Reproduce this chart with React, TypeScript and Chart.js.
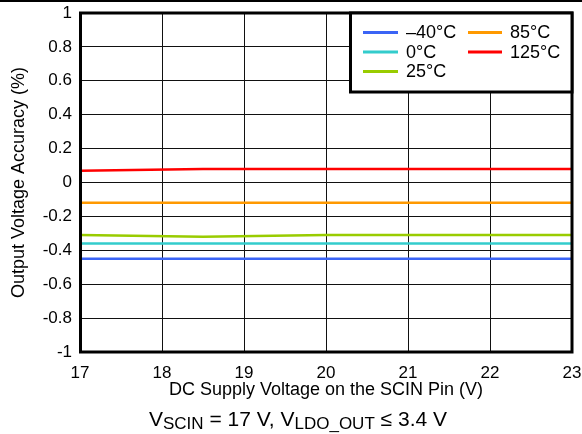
import React, { useEffect, useRef } from "react";
import { Chart, registerables } from "chart.js";

Chart.register(...registerables);

const supplyVoltage = [17, 18.5, 20, 21.5, 23];
const accMinus40 = [-0.45, -0.45, -0.45, -0.45, -0.45];
const acc0 = [-0.36, -0.36, -0.36, -0.36, -0.36];
const acc25 = [-0.31, -0.32, -0.31, -0.31, -0.31];
const acc85 = [-0.12, -0.12, -0.12, -0.12, -0.12];
const acc125 = [0.07, 0.08, 0.08, 0.08, 0.08];

const seriesLabels = ["\u201340\u00B0C", "0\u00B0C", "25\u00B0C", "85\u00B0C", "125\u00B0C"];
const seriesColors = ["#3b64f5", "#33cccc", "#99cc00", "#ff9900", "#ff0000"];
const seriesValues = [accMinus40, acc0, acc25, acc85, acc125];

const xTitle = "DC Supply Voltage on the SCIN Pin (V)";
const yTitle = "Output Voltage Accuracy (%)";
const subtitleParts = [
  { text: "V", sub: false },
  { text: "SCIN", sub: true },
  { text: " = 17 V, V", sub: false },
  { text: "LDO_OUT", sub: true },
  { text: " \u2264 3.4 V", sub: false },
];

const FONT = "'Liberation Sans', Arial, Helvetica, sans-serif";

const decorPlugin = {
  id: "decor",
  afterDraw(chart: any) {
    const ctx = chart.ctx as CanvasRenderingContext2D;
    const { left, right, top, bottom } = chart.chartArea;
    ctx.save();
    // top rule
    ctx.fillStyle = "#000";
    ctx.fillRect(0, 0, chart.width, 2);
    // plot frame
    ctx.strokeStyle = "#000";
    ctx.lineWidth = 3;
    ctx.strokeRect(left + 0.5, top, right - left - 0.5, bottom - top);

    // legend box
    const lx = 350.5, ly = 13, lw = right - 350.5, lh = 79;
    ctx.fillStyle = "#fff";
    ctx.fillRect(lx, ly, lw, lh);
    ctx.lineWidth = 3;
    ctx.strokeRect(lx, ly, lw, lh);
    const rows = [32.5, 52, 71.5];
    ctx.font = `18px ${FONT}`;
    ctx.textBaseline = "middle";
    ctx.textAlign = "left";
    chart.data.datasets.forEach((ds: any, i: number) => {
      const col = i < 3 ? 0 : 1;
      const row = i < 3 ? i : i - 3;
      const x0 = col === 0 ? 363 : 468;
      const x1 = col === 0 ? 398 : 502;
      const tx = col === 0 ? 406 : 510;
      const y = rows[row];
      ctx.strokeStyle = ds.borderColor;
      ctx.lineWidth = 3;
      ctx.beginPath();
      ctx.moveTo(x0, y);
      ctx.lineTo(x1, y);
      ctx.stroke();
      ctx.fillStyle = "#000";
      ctx.fillText(ds.label, tx, y + 1);
    });

    // axis titles
    ctx.fillStyle = "#000";
    ctx.font = `18px ${FONT}`;
    ctx.textAlign = "center";
    ctx.textBaseline = "middle";
    ctx.fillText(xTitle, (left + right) / 2, 390);
    ctx.save();
    ctx.translate(19, (top + bottom) / 2);
    ctx.rotate(-Math.PI / 2);
    ctx.fillText(yTitle, 0, 0);
    ctx.restore();

    // subtitle with subscripts
    const mainFont = `21px ${FONT}`;
    const subFont = `17px ${FONT}`;
    ctx.textAlign = "left";
    ctx.textBaseline = "alphabetic";
    let total = 0;
    const widths = subtitleParts.map((p) => {
      ctx.font = p.sub ? subFont : mainFont;
      const w = ctx.measureText(p.text).width;
      total += w;
      return w;
    });
    let x = 298 - total / 2;
    subtitleParts.forEach((p, i) => {
      ctx.font = p.sub ? subFont : mainFont;
      ctx.fillText(p.text, x, p.sub ? 429 : 426);
      x += widths[i];
    });
    ctx.restore();
  },
};

export default function App() {
  const canvasRef = useRef<HTMLCanvasElement | null>(null);

  useEffect(() => {
    document.body.style.margin = "0";
    const canvas = canvasRef.current;
    if (!canvas) return;
    const chart = new Chart(canvas, {
      type: "line",
      data: {
        datasets: seriesLabels.map((label, i) => ({
          label,
          data: supplyVoltage.map((x, j) => ({ x, y: seriesValues[i][j] })),
          borderColor: seriesColors[i],
          backgroundColor: seriesColors[i],
          borderWidth: 2.5,
          pointRadius: 0,
          tension: 0,
          fill: false,
        })),
      },
      options: {
        responsive: false,
        animation: false,
        devicePixelRatio: 1,
        layout: { padding: { top: 13, right: 10, left: 0, bottom: 0 } },
        plugins: {
          legend: { display: false },
          tooltip: { enabled: false },
          title: { display: false },
        },
        scales: {
          x: {
            type: "linear",
            min: 17,
            max: 23,
            afterFit: (scale: any) => {
              scale.height = 82;
              scale.paddingLeft = 0;
              scale.paddingRight = 0;
            },
            ticks: {
              stepSize: 1,
              color: "#000",
              font: { size: 17, family: FONT },
              padding: 11,
              maxRotation: 0,
              autoSkip: false,
            },
            grid: { color: "#111", lineWidth: 1, drawTicks: false },
            border: { display: false },
          },
          y: {
            type: "linear",
            min: -1,
            max: 1,
            afterFit: (scale: any) => {
              scale.width = 80;
              scale.paddingTop = 0;
              scale.paddingBottom = 0;
            },
            ticks: {
              stepSize: 0.2,
              color: "#000",
              font: { size: 17, family: FONT },
              padding: 8,
              autoSkip: false,
              callback: (v: any) => String(Number(Number(v).toFixed(1))),
            },
            grid: { color: "#111", lineWidth: 1, drawTicks: false },
            border: { display: false },
          },
        },
      },
      plugins: [decorPlugin],
    });
    return () => chart.destroy();
  }, []);

  return (
    <canvas
      ref={canvasRef}
      width={582}
      height={434}
      style={{ position: "fixed", top: 0, left: 0, display: "block", width: 582, height: 434 }}
    />
  );
}
